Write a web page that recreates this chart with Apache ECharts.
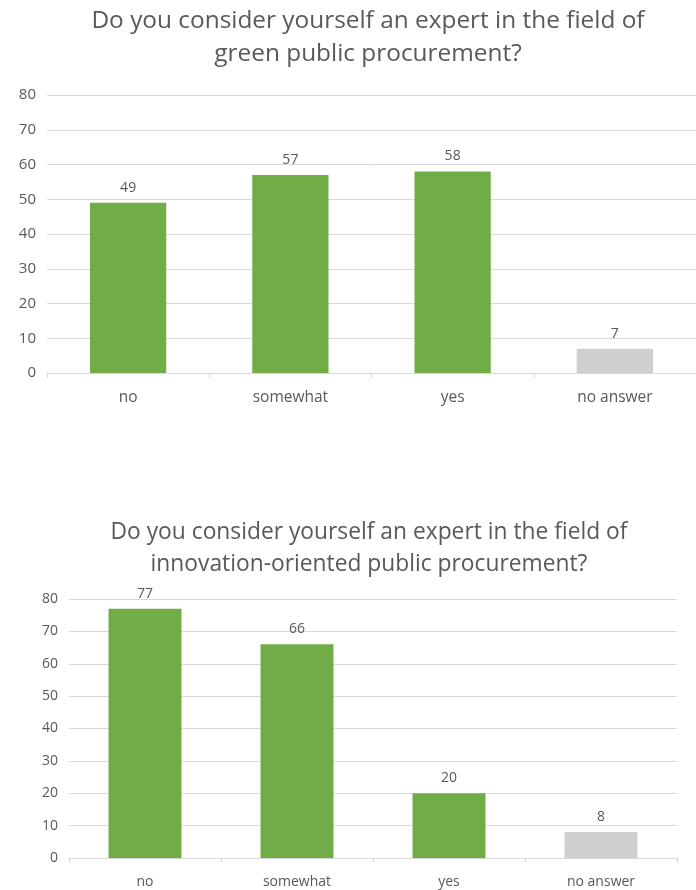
<!DOCTYPE html>
<html><head><meta charset="utf-8">
<script src="https://cdn.jsdelivr.net/npm/echarts@6/dist/echarts.min.js"></script>
<style>html,body{margin:0;padding:0;background:#fff}#c{width:696px;height:890px}</style>
</head><body><div id="c"></div>
<script>
const categories = ['no', 'somewhat', 'yes', 'no answer'];
const greenValues = [49, 57, 58, 7];
const innovationValues = [77, 66, 20, 8];
const yTicks = [0, 10, 20, 30, 40, 50, 60, 70, 80];
const titles = [
  'Do you consider yourself an expert in the field of\ngreen public procurement?',
  'Do you consider yourself an expert in the field of\ninnovation-oriented public procurement?'
];

const FONT = 'Open Sans';
const TXT = '#595959';
const GREEN = '#70AD47';
const GRAY = '#D0CECE';
const colorFn = p => p.name === 'no answer' ? GRAY : GREEN;

function xAxis(gi, fs, margin) {
  return {
    type: 'category', gridIndex: gi, data: categories,
    axisLine: {lineStyle: {color: '#d9d9d9'}},
    axisTick: {show: true, length: 5, lineStyle: {color: '#d9d9d9'}},
    axisLabel: {color: TXT, fontFamily: FONT, fontSize: fs, margin: margin}
  };
}
function yAxis(gi, fs) {
  return {
    type: 'value', gridIndex: gi, min: yTicks[0], max: yTicks[yTicks.length - 1], interval: 10,
    axisLine: {show: false}, axisTick: {show: false},
    splitLine: {lineStyle: {color: '#d9d9d9'}},
    axisLabel: {color: TXT, fontFamily: FONT, fontSize: fs, margin: 11}
  };
}
const chart = echarts.init(document.getElementById('c'), null, {renderer: 'canvas'});
chart.setOption({
  animation: false,
  title: [
    {text: titles[0], left: 363, top: 0, textAlign: 'center',
     textStyle: {color: TXT, fontFamily: FONT, fontWeight: 'normal', fontSize: 24.4, lineHeight: 33}},
    {text: titles[1], left: 364, top: 512, textAlign: 'center',
     textStyle: {color: TXT, fontFamily: FONT, fontWeight: 'normal', fontSize: 22.8, lineHeight: 32}}
  ],
  grid: [
    {left: 47, top: 95, width: 649, height: 278},
    {left: 69, top: 599, width: 608, height: 259}
  ],
  xAxis: [xAxis(0, 15.5, 17), xAxis(1, 14, 17)],
  yAxis: [yAxis(0, 15), yAxis(1, 14)],
  series: [
    {type: 'bar', xAxisIndex: 0, yAxisIndex: 0, data: greenValues, barWidth: '47%',
     itemStyle: {color: colorFn},
     label: {show: true, position: 'top', distance: 8, color: TXT, fontFamily: FONT, fontSize: 14}},
    {type: 'bar', xAxisIndex: 1, yAxisIndex: 1, data: innovationValues, barWidth: '48%',
     itemStyle: {color: colorFn},
     label: {show: true, position: 'top', distance: 8, color: TXT, fontFamily: FONT, fontSize: 14}}
  ]
});
</script></body></html>
